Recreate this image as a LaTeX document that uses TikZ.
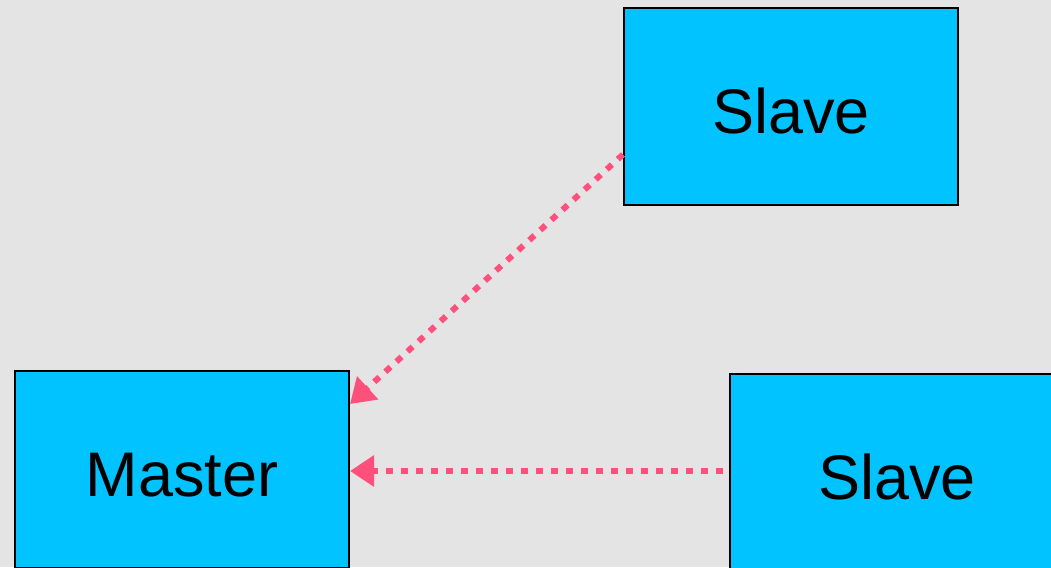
\documentclass[tikz,border=0pt]{standalone}
\usepackage{fontspec}
\setmainfont{Liberation Sans}
\usetikzlibrary{arrows.meta,positioning}
\definecolor{bgGray}{HTML}{E4E4E4}
\definecolor{boxCyan}{HTML}{00C3FF}
\definecolor{linkPink}{HTML}{FF4F7B}

\begin{document}
\begin{tikzpicture}[x=1pt,y=-1pt,
    unit/.style={draw=black, line width=2pt, fill=boxCyan, minimum width=334pt,
      minimum height=197pt, inner sep=0pt, text height=53pt, text depth=0pt,
      font=\fontsize{63}{70}\selectfont},
    link/.style={linkPink, line width=6pt, dash pattern=on 7pt off 8pt,
      -{Triangle[length=24pt,width=30pt]}}]
  % canvas
  \fill[bgGray] (0,0) rectangle (1051,567);
  \useasboundingbox (0,0) rectangle (1051,567);

  % the three boxes
  \node[unit] (master) at (182,469.5) {Master};
  \node[unit] (slaveA) at (791,106.5) {Slave};
  \node[unit] (slaveB) at (897,472.5) {Slave};

  % links to the master
  \draw[link] ([yshift=-48pt]slaveA.west) -- ([yshift=-34pt]master.north east);
  \draw[link] ([xshift=-6pt,yshift=1.5pt]slaveB.west) -- ([yshift=-1.5pt]master.east);
\end{tikzpicture}
\end{document}
